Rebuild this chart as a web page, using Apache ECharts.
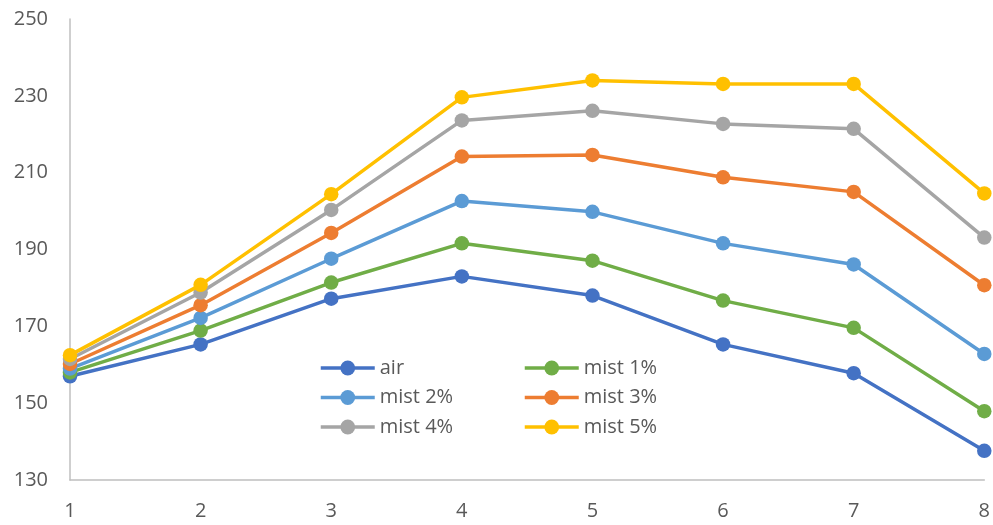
<!DOCTYPE html>
<html>
<head>
<meta charset="utf-8">
<script src="https://cdn.jsdelivr.net/npm/echarts@6/dist/echarts.min.js"></script>
<style>
  html, body { margin: 0; padding: 0; background: #ffffff; }
  #chart { width: 993px; height: 525px; }
</style>
</head>
<body>
<div id="chart"></div>
<script>
// Sample positions along the x axis
const categories = ['1', '2', '3', '4', '5', '6', '7', '8'];

// Measured values per condition
const air    = [157.0, 165.3, 177.2, 183.0, 178.0, 165.3, 157.8, 137.6];
const mist1  = [158.0, 168.9, 181.4, 191.6, 187.1, 176.7, 169.6, 147.9];
const mist2  = [159.0, 172.2, 187.6, 202.6, 199.8, 191.6, 186.1, 162.8];
const mist3  = [160.2, 175.5, 194.3, 214.2, 214.6, 208.8, 205.0, 180.7];
const mist4  = [161.5, 178.8, 200.3, 223.6, 226.1, 222.7, 221.4, 193.1];
const mist5  = [162.5, 180.8, 204.4, 229.6, 234.0, 233.1, 233.1, 204.6];

const seriesNames = ['air', 'mist 1%', 'mist 2%', 'mist 3%', 'mist 4%', 'mist 5%'];
const seriesData  = [air, mist1, mist2, mist3, mist4, mist5];
const seriesColors = ['#4472C4', '#70AD47', '#5B9BD5', '#ED7D31', '#A5A5A5', '#FFC000'];

const labelFont = 'Open Sans';
const textColor = '#595959';

const chart = echarts.init(document.getElementById('chart'), null, { renderer: 'canvas' });

// Two legend columns, three rows each
const legendCommon = {
  orient: 'vertical',
  top: 358,
  padding: 0,
  itemWidth: 54,
  itemHeight: 18.5,
  itemGap: 9.5,
  lineStyle: { width: 3.5 },
  textStyle: { fontFamily: labelFont, fontSize: 20, color: textColor, lineHeight: 20 },
  selectedMode: false
};

chart.setOption({
  animation: false,
  backgroundColor: '#ffffff',
  color: seriesColors,
  grid: { left: 70, right: 8, top: 19, bottom: 45, containLabel: false },
  legend: [
    Object.assign({ left: 319, data: ['air', 'mist 2%', 'mist 4%'] }, legendCommon),
    Object.assign({ left: 523, data: ['mist 1%', 'mist 3%', 'mist 5%'] }, legendCommon)
  ],
  xAxis: {
    type: 'category',
    data: categories,
    boundaryGap: false,
    axisLine: { show: true, lineStyle: { color: '#BFBFBF', width: 1.5 } },
    axisTick: { show: false },
    splitLine: { show: false },
    axisLabel: { fontFamily: labelFont, fontSize: 20, color: textColor, margin: 21 }
  },
  yAxis: {
    type: 'value',
    min: 130,
    max: 250,
    interval: 20,
    axisLine: { show: true, lineStyle: { color: '#BFBFBF', width: 1.5 } },
    axisTick: { show: false },
    splitLine: { show: false },
    axisLabel: { fontFamily: labelFont, fontSize: 20, color: textColor, margin: 22 }
  },
  series: seriesNames.map((name, i) => ({
    name: name,
    type: 'line',
    data: seriesData[i],
    symbol: 'circle',
    symbolSize: 14.5,
    lineStyle: { width: 3.5, color: seriesColors[i] },
    itemStyle: { color: seriesColors[i] },
    z: 2 + i
  }))
});
</script>
</body>
</html>
